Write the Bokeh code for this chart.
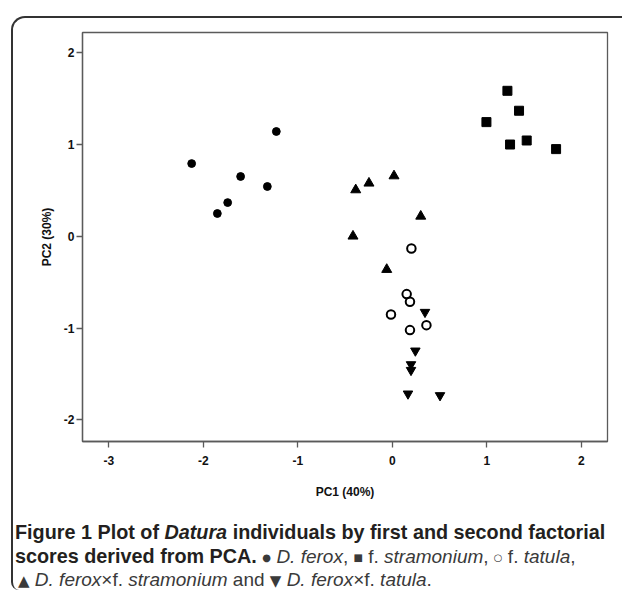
from bokeh.plotting import figure
from bokeh.models import Range1d, FixedTicker, InlineStyleSheet, Div
from bokeh.layouts import column
from bokeh.embed import file_html
from bokeh.resources import INLINE

# ---- data ----
ferox_x = [-1.228, -2.124, -1.606, -1.323, -1.743, -1.852]
ferox_y = [1.140, 0.791, 0.650, 0.541, 0.366, 0.247]
stram_x = [1.217, 1.340, 0.995, 1.421, 1.245, 1.732]
stram_y = [1.583, 1.366, 1.242, 1.042, 0.998, 0.948]
tatula_x = [0.201, 0.151, 0.186, -0.015, 0.360, 0.186]
tatula_y = [-0.134, -0.631, -0.715, -0.853, -0.969, -1.023]
fxs_x = [-0.388, -0.248, 0.017, 0.300, -0.417, -0.060]
fxs_y = [0.504, 0.577, 0.656, 0.217, 0.000, -0.363]
fxt_x = [0.345, 0.243, 0.197, 0.197, 0.165, 0.504]
fxt_y = [-0.827, -1.248, -1.397, -1.459, -1.716, -1.734]

x_ticks = [-3, -2, -1, 0, 1, 2]
y_ticks = [-2, -1, 0, 1, 2]
x_label = "PC1 (40%)"
y_label = "PC2 (30%)"

# caption text
cap_title = "Figure 1"
cap_bold_a = "Plot of"
cap_genus = "Datura"
cap_bold_b = "individuals by first and second factorial"
cap_bold_c = "scores derived from PCA."

TOP_H = 505
CAP_H = 85

p = figure(width=622, height=TOP_H, title=None,
           x_range=Range1d(-3.279, 2.276), y_range=Range1d(-2.236, 2.218),
           output_backend="svg", toolbar_location=None,
           min_border_left=82, min_border_right=15, min_border_top=32,
           min_border_bottom=TOP_H - 441)

p.xgrid.visible = False
p.ygrid.visible = False
p.outline_line_color = "#5a5a5a"
p.outline_line_width = 1.3

p.xaxis.ticker = FixedTicker(ticks=x_ticks)
p.yaxis.ticker = FixedTicker(ticks=y_ticks)
p.xaxis.major_label_overrides = {t: str(t) for t in x_ticks}
p.yaxis.major_label_overrides = {t: str(t) for t in y_ticks}
p.xaxis.axis_label = x_label
p.yaxis.axis_label = y_label
for ax in (p.xaxis[0], p.yaxis[0]):
    ax.axis_line_color = "#5a5a5a"
    ax.axis_line_width = 1.3
    ax.major_tick_line_color = "#5a5a5a"
    ax.major_tick_line_width = 1.3
    ax.major_tick_out = 6
    ax.major_tick_in = 0
    ax.minor_tick_line_color = None
    ax.major_label_text_font = "Liberation Sans"
    ax.major_label_text_font_style = "bold"
    ax.major_label_text_font_size = "12px"
    ax.major_label_text_color = "#111111"
    ax.axis_label_text_font = "Liberation Sans"
    ax.axis_label_text_font_style = "bold"
    ax.axis_label_text_font_size = "12px"
    ax.axis_label_text_color = "#111111"
p.xaxis.major_label_standoff = 8
p.xaxis.axis_label_standoff = 17
p.yaxis.major_label_standoff = 2
p.yaxis.axis_label_standoff = 7

p.scatter(ferox_x, ferox_y, marker="circle", size=7.8, color="black")
p.scatter(stram_x, stram_y, marker="square", size=9, color="black")
p.scatter(tatula_x, tatula_y, marker="circle", size=8.5, fill_color=None,
          line_color="black", line_width=2)
p.scatter(fxs_x, fxs_y, marker="triangle", size=10, color="black")
p.scatter(fxt_x, fxt_y, marker="inverted_triangle", size=9.5, color="black")

sym_small = '<span style="font-family:\'DejaVu Sans\';font-size:10px;vertical-align:2px">{}</span>'
sym_tri = '<span style="font-family:\'DejaVu Sans\';font-size:15px">{}</span>'
light = '<span style="color:#3a3a3a;font-weight:400;font-size:19px">{}</span>'
times = "\u00d7"

line1 = f"<b>{cap_title} {cap_bold_a} <i>{cap_genus}</i> {cap_bold_b}</b>"
line2 = (f"<b>{cap_bold_c}</b> " + light.format(
    sym_small.format("\u25cf") + " <i>D. ferox</i>, " +
    sym_small.format("\u25a0") + " f. <i>stramonium</i>, " +
    sym_small.format("\u25cb") + " f. <i>tatula</i>,"))
line3 = light.format(
    sym_tri.format("\u25b2") + f" <i>D. ferox</i>{times}f. <i>stramonium</i> and " +
    sym_tri.format("\u25bc") + f" <i>D. ferox</i>{times}f. <i>tatula</i>.")

cap_html = (
    '<div style="font-family:\'Liberation Sans\',Arial,sans-serif;font-size:19.8px;'
    'color:#231f20;padding:15px 0 0 15px;margin:0;white-space:nowrap;">'
    f'<div style="line-height:24px;height:24px">{line1}</div>'
    f'<div style="line-height:24px;height:24px">{line2}</div>'
    f'<div style="line-height:22px;height:22px;padding-left:3px">{line3}</div>'
    '</div>'
)

cap = Div(text=cap_html, width=622, height=CAP_H, margin=(0, 0, 0, 0))

box_css = InlineStyleSheet(css="""
:host { position: relative; }
:host::after {
  content: "";
  position: absolute;
  left: 11px; top: 16px; right: 0; bottom: 0;
  border-left: 2px solid #333333;
  border-top: 2px solid #333333;
  border-top-left-radius: 14px;
  border-bottom-left-radius: 8px;
  pointer-events: none;
}
""")

layout = column(p, cap, stylesheets=[box_css])

open("out.html", "w").write(file_html(layout, INLINE))
